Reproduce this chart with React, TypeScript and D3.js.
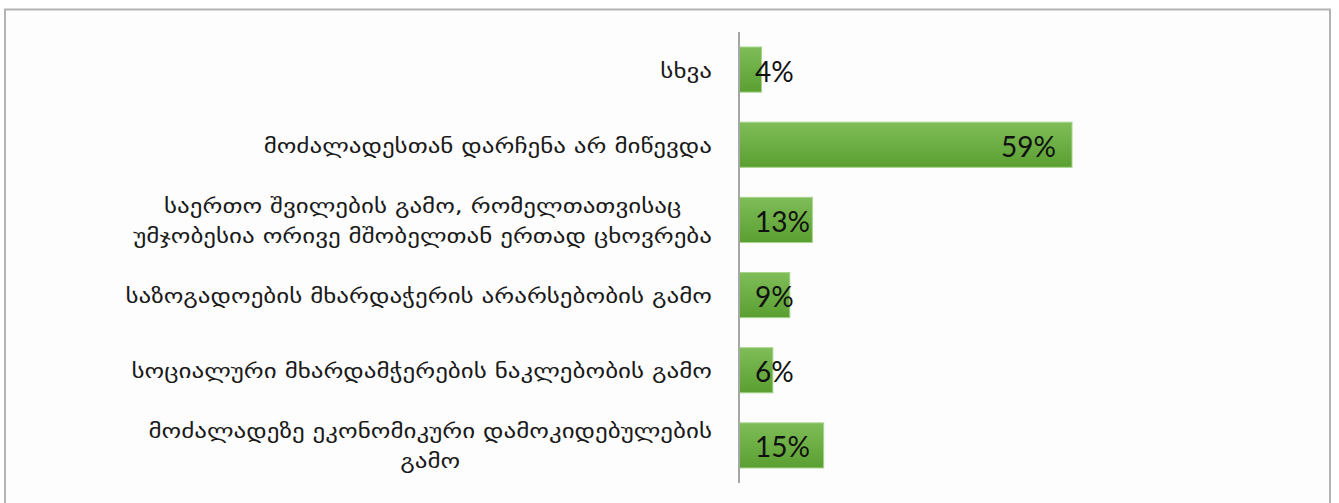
import { useEffect, useRef } from "react";
import * as d3 from "d3";

// top-to-bottom order as in the chart
const categories: string[][] = [
  ["სხვა"],
  ["მოძალადესთან დარჩენა არ მიწევდა"],
  ["საერთო შვილების გამო, რომელთათვისაც", "უმჯობესია ორივე მშობელთან ერთად ცხოვრება"],
  ["საზოგადოების მხარდაჭერის არარსებობის გამო"],
  ["სოციალური მხარდამჭერების ნაკლებობის გამო"],
  ["მოძალადეზე ეკონომიკური დამოკიდებულების", "გამო"],
];
const values = [4, 59, 13, 9, 6, 15];

const W = 1339;
const H = 503;

export default function App() {
  const svgRef = useRef<SVGSVGElement>(null);

  useEffect(() => {
    if (!svgRef.current) return;
    const svg = d3.select(svgRef.current);
    svg.selectAll("*").remove();

    const axisX = 739;
    const labelRight = 712;
    const stretch = 1.25; // label font in the original is wider

    const x = d3.scaleLinear().domain([0, 59]).range([axisX, 1072]);
    const y = d3
      .scaleBand<number>()
      .domain(d3.range(values.length))
      .range([32, 483])
      .paddingInner(0.4)
      .paddingOuter(0.2);

    // gradient for the bars
    const defs = svg.append("defs");
    const grad = defs
      .append("linearGradient")
      .attr("id", "barGrad")
      .attr("x1", 0)
      .attr("y1", 0)
      .attr("x2", 0)
      .attr("y2", 1);
    grad.append("stop").attr("offset", "0%").attr("stop-color", "#7fbd58");
    grad.append("stop").attr("offset", "100%").attr("stop-color", "#5a9f31");

    svg.append("rect").attr("width", W).attr("height", H).attr("fill", "#fff");

    // outer frame
    svg
      .append("rect")
      .attr("x", 5)
      .attr("y", 9.5)
      .attr("width", 1325)
      .attr("height", 520)
      .attr("fill", "#fdfdfd")
      .attr("stroke", "#b3b3b3")
      .attr("stroke-width", 2);

    // bars
    svg
      .append("g")
      .selectAll("rect")
      .data(values)
      .join("rect")
      .attr("x", axisX)
      .attr("y", (_, i) => y(i)!)
      .attr("width", (d) => x(d) - axisX)
      .attr("height", y.bandwidth())
      .attr("fill", "url(#barGrad)")
      .attr("stroke", "#a6d48a")
      .attr("stroke-width", 1);

    // axis line
    svg
      .append("line")
      .attr("x1", axisX)
      .attr("x2", axisX)
      .attr("y1", 32)
      .attr("y2", 483)
      .attr("stroke", "#a6a6a6")
      .attr("stroke-width", 2);

    // category labels (centered lines, right-aligned block)
    const lineH = 30;
    categories.forEach((lines, i) => {
      const cy = y(i)! + y.bandwidth() / 2;
      const g = svg.append("g");
      const texts = lines.map((line, j) =>
        g
          .append("text")
          .attr("y", cy + (j - (lines.length - 1) / 2) * lineH)
          .attr("dy", "0.4em")
          .attr("text-anchor", "middle")
          .style("font-family", "'DejaVu Sans', sans-serif")
          .style("font-size", "20px")
          .attr("fill", "#1a1a1a")
          .text(line)
      );
      const widths = texts.map((t) => (t.node() as SVGTextElement).getComputedTextLength() * stretch);
      const maxW = d3.max(widths) || 0;
      texts.forEach((t, j) =>
        t
          .attr("x", labelRight - maxW / 2)
          .attr("textLength", widths[j])
          .attr("lengthAdjust", "spacingAndGlyphs")
      );
    });

    // value labels
    values.forEach((v, i) => {
      const cy = y(i)! + y.bandwidth() / 2;
      const t = svg
        .append("text")
        .attr("y", cy)
        .attr("dy", "0.43em")
        .style("font-family", "Lato, sans-serif")
        .style("font-size", "28px")
        .attr("fill", "#111")
        .text(`${v}%`);
      const tw = (t.node() as SVGTextElement).getComputedTextLength();
      t.attr("x", Math.max(x(v) - 16 - tw, axisX + 16));
    });
  }, []);

  return (
    <svg
      ref={svgRef}
      width={W}
      height={H}
      style={{ position: "absolute", left: 0, top: 0, display: "block" }}
    />
  );
}
